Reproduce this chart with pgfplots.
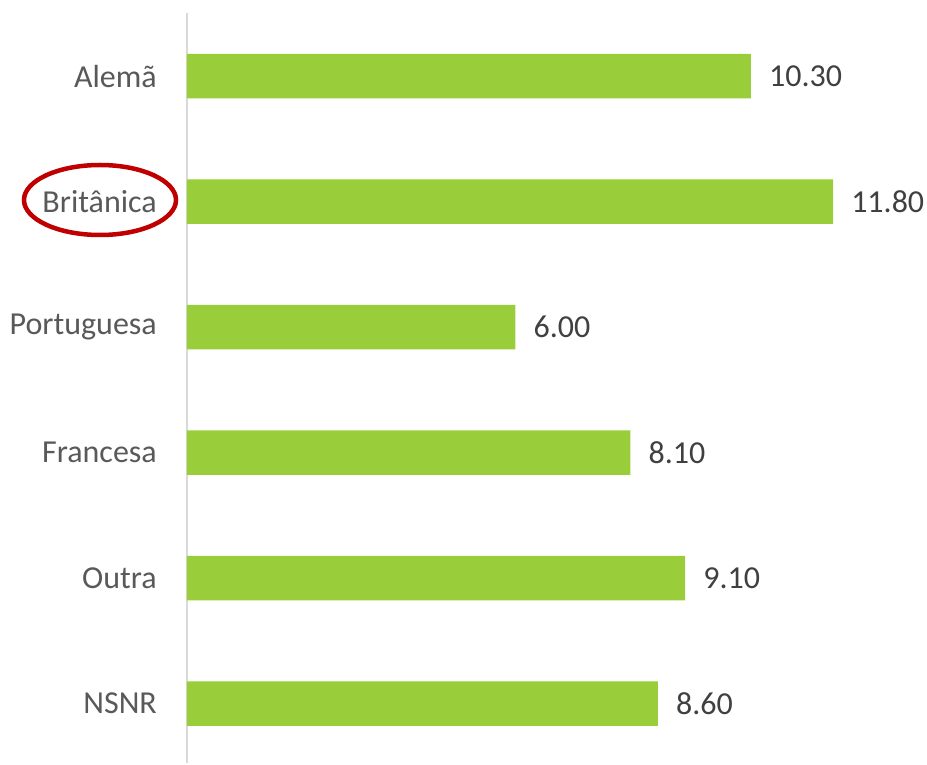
\documentclass[border=0pt]{standalone}
\usepackage{pgfplots}
\pgfplotsset{compat=1.18}
\usetikzlibrary{calc}
\usepackage{fontspec}
\setmainfont{Carlito}
\definecolor{bargreen}{HTML}{9ACD3A}
\definecolor{axgray}{HTML}{D9D9D9}
\definecolor{lblgray}{HTML}{595959}
\definecolor{valgray}{HTML}{404040}
\definecolor{ringred}{HTML}{C00000}
\begin{document}
\begin{tikzpicture}[x=1pt,y=1pt]
\begin{axis}[
  name=ax,
  at={(0,0)}, anchor=south west,
  scale only axis,
  width=711.75pt, height=750pt,
  xbar, bar width=44.5pt,
  xmin=0, xmax=13,
  ymin=-0.502, ymax=5.473,
  y dir=reverse,
  ytick={0,1,2,3,4,5},
  yticklabels={Alemã,Britânica,Portuguesa,Francesa,Outra,NSNR},
  yticklabel style={font=\fontsize{32}{38}\selectfont, text=lblgray, inner sep=0pt, xshift=-30pt},
  major tick length=0pt,
  xtick=\empty,
  axis line style={draw=axgray, line width=2pt},
  axis x line=none,
  axis y line*=left,
  y axis line style={-},
  clip=false,
  nodes near coords,
  nodes near coords style={font=\fontsize{32}{38}\selectfont, text=valgray, anchor=west, inner sep=0pt, xshift=18pt},
  point meta=explicit symbolic,
]
\addplot[fill=bargreen, draw=none] coordinates {
  (10.30,0) [10.30]
  (11.80,1) [11.80]
  (6.00,2) [6.00]
  (8.10,3) [8.10]
  (9.10,4) [9.10]
  (8.60,5) [8.60]
};
\end{axis}
\draw[ringred, line width=4.5pt] ($(ax.south west)+(-87pt,563pt)$) ellipse [x radius=76pt, y radius=35pt];
\useasboundingbox ($(ax.south west)+(-187pt,0pt)$) rectangle ($(ax.south west)+(740pt,763pt)$);
\end{tikzpicture}
\end{document}
